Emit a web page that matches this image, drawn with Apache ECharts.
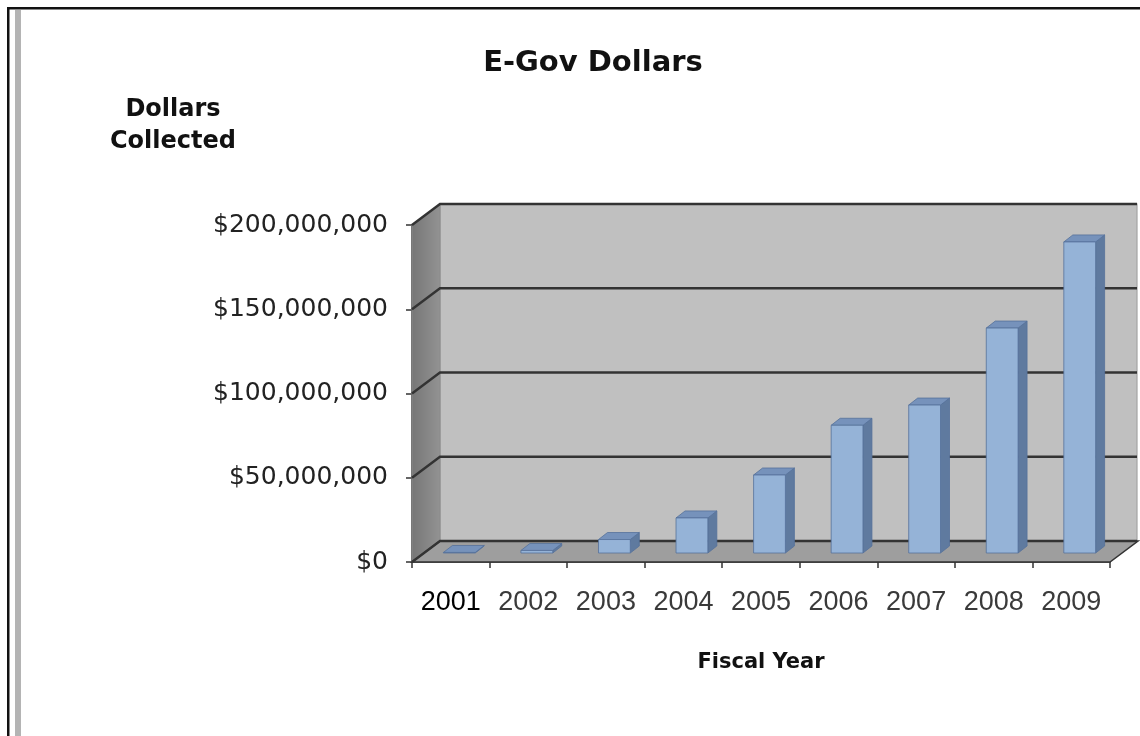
<!DOCTYPE html>
<html><head><meta charset="utf-8">
<script src="https://cdn.jsdelivr.net/npm/echarts@6/dist/echarts.min.js"></script>
<style>html,body{margin:0;padding:0;background:#fff;overflow:hidden}#c{width:1140px;height:736px}</style>
</head><body><div id="c"></div>
<script>
// ---- data ----
const years = ['2001','2002','2003','2004','2005','2006','2007','2008','2009'];
const dollars = [300000, 1500000, 8000000, 20800000, 46300000, 75800000, 87800000, 133500000, 184600000];
const yTicks = [0, 50000000, 100000000, 150000000, 200000000];
const yMin = 0, yMax = 200000000, yStep = 50000000;

// ---- 3D look constants (pixels) ----
const DX = 28, DY = -21;      // wall depth
const BX = 8.5, BY = -9;      // bar front-face offset into depth
const BDX = 9, BDY = -7;      // bar depth
const BAR_FRAC = 0.41;

function plotBox(api) {
  const n = years.length;
  const bw = api.size([1, 0])[0];
  const p0 = api.coord([0, yMin]);
  const p1 = api.coord([n - 1, yMax]);
  return { x0: p0[0] - bw / 2, x1: p1[0] + bw / 2, yb: p0[1], yt: p1[1] };
}

function renderWalls(params, api) {
  const b = plotBox(api);
  return { type: 'group', children: [
    { type: 'rect', shape: { x: b.x0 + DX, y: b.yt + DY, width: b.x1 - b.x0 - 1, height: b.yb - b.yt },
      style: { fill: '#c0c0c0', stroke: '#a4a4a4', lineWidth: 1.2 } },
    { type: 'polygon', shape: { points: [[b.x0, b.yt], [b.x0 + DX, b.yt + DY], [b.x0 + DX, b.yb + DY], [b.x0, b.yb]] },
      style: { fill: { type: 'linear', x: 0, y: 0, x2: 1, y2: 0, colorStops: [{ offset: 0, color: '#767676' }, { offset: 1, color: '#939393' }] },
               stroke: '#8a8a8a', lineWidth: 1 } },
    { type: 'polygon', shape: { points: [[b.x0, b.yb], [b.x0 + DX, b.yb + DY], [b.x1 + DX, b.yb + DY], [b.x1, b.yb]] },
      style: { fill: '#9e9e9e', stroke: '#333', lineWidth: 1.5 } }
  ] };
}

function renderGrid(params, api) {
  const b = plotBox(api);
  const y = api.coord([0, api.value(1)])[1];
  return { type: 'polyline', shape: { points: [[b.x0, y], [b.x0 + DX, y + DY], [b.x1 + DX - 1, y + DY]] },
    style: { stroke: '#333', lineWidth: 2.4, fill: null } };
}

function renderBar(params, api) {
  const i = api.value(0), v = api.value(1);
  const top = api.coord([i, v]);
  const base = api.coord([i, 0]);
  const w = api.size([1, 0])[0] * BAR_FRAC;
  const l = top[0] - w / 2 + BX, r = l + w;
  const t = top[1] + BY, bt = base[1] + BY;
  const edge = { stroke: '#56719a', lineWidth: 0.8 };
  return { type: 'group', children: [
    { type: 'polygon', shape: { points: [[r, t], [r + BDX, t + BDY], [r + BDX, bt + BDY], [r, bt]] },
      style: Object.assign({ fill: '#5f7a9f' }, edge) },
    { type: 'polygon', shape: { points: [[l, t], [l + BDX, t + BDY], [r + BDX, t + BDY], [r, t]] },
      style: Object.assign({ fill: '#7692bb' }, edge) },
    { type: 'rect', shape: { x: l, y: t, width: w, height: Math.max(bt - t, 0.5) },
      style: Object.assign({ fill: '#95b3d7' }, edge) }
  ] };
}

const chart = echarts.init(document.getElementById('c'));
chart.setOption({
  backgroundColor: '#fff',
  animation: false,
  title: [
    { text: 'E-Gov Dollars', left: 588, top: 44, textAlign: 'center',
      textStyle: { fontFamily: 'DejaVu Sans', fontWeight: 'bold', fontSize: 29, color: '#111' } },
    { text: 'Dollars\nCollected', left: 168, top: 89, textAlign: 'center',
      textStyle: { fontFamily: 'DejaVu Sans', fontWeight: 'bold', fontSize: 24, lineHeight: 32, color: '#111', align: 'center' } }
  ],
  graphic: [
    { type: 'rect', shape: { x: 7, y: 7, width: 1140, height: 2.5 }, style: { fill: '#111' }, silent: true },
    { type: 'rect', shape: { x: 7, y: 7, width: 2.5, height: 740 }, style: { fill: '#111' }, silent: true },
    { type: 'rect', shape: { x: 15, y: 10, width: 6, height: 740 }, style: { fill: '#b4b4b4' }, silent: true }
  ],
  grid: { left: 412, right: 30, top: 225, bottom: 174, containLabel: false },
  xAxis: {
    type: 'category', data: years,
    axisLine: { show: true, lineStyle: { color: '#333', width: 1.5 } },
    axisTick: { show: true, length: 6, lineStyle: { color: '#333', width: 1.5 } },
    axisLabel: { interval: 0, margin: 27, fontFamily: 'Liberation Sans', fontSize: 27,
      color: function (val, idx) { return idx === 0 ? '#000' : '#3a3a3a'; } },
    name: 'Fiscal Year', nameLocation: 'middle', nameGap: 90,
    nameTextStyle: { fontFamily: 'DejaVu Sans', fontWeight: 'bold', fontSize: 21, color: '#111' },
    splitLine: { show: false }
  },
  yAxis: {
    type: 'value', min: yMin, max: yMax, interval: yStep,
    axisLine: { show: true, lineStyle: { color: '#333', width: 1.5 } },
    axisTick: { show: true, length: 6, lineStyle: { color: '#333', width: 1.5 } },
    axisLabel: { margin: 24, fontFamily: 'DejaVu Sans', fontSize: 25, color: '#222',
      formatter: function (v) { return '$' + v.toLocaleString('en-US'); } },
    splitLine: { show: false }
  },
  series: [
    { type: 'custom', name: 'walls', renderItem: renderWalls, data: [[0, 0]], z: 1, silent: true },
    { type: 'custom', name: 'gridlines', renderItem: renderGrid, data: yTicks.map(v => [0, v]), z: 2, silent: true },
    { type: 'custom', name: 'Dollars Collected', renderItem: renderBar, data: dollars.map((v, i) => [i, v]), z: 3 }
  ]
});
</script>
</body></html>
